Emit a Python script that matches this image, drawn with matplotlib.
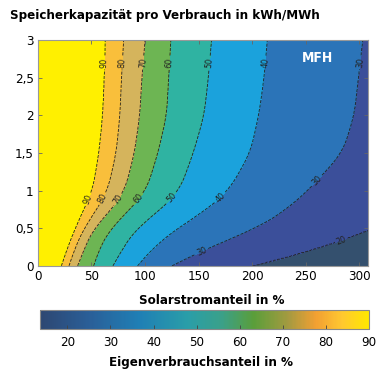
import numpy as np
import matplotlib
matplotlib.use("Agg")
import matplotlib.pyplot as plt
from matplotlib.colors import LinearSegmentedColormap, Normalize
from matplotlib.cm import ScalarMappable

# ------------------------------------------------------------
# Data: x position (Solarstromanteil, %) where
# each Eigenverbrauchsanteil contour crosses a given storage row
# ------------------------------------------------------------
storage_rows = [0, 0.25, 0.5, 0.75, 1.0, 1.5, 2.0, 2.5, 3.0]
levels = [90, 80, 70, 60, 50, 40, 30, 20]
cross_90 = [22, 28, 35, 43, 51, 57, 60.5, 62, 63]
cross_80 = [29, 35, 43, 55, 65, 73, 76.5, 78, 80]
cross_70 = [37, 44, 52, 69, 81, 90, 95, 97, 100]
cross_60 = [52, 58, 68, 86, 101, 112, 120, 122, 124]
cross_50 = [70, 80, 92, 115, 132, 145, 155, 159, 162]
cross_40 = [93, 108, 130, 158, 178, 198, 206, 211, 214]
cross_30 = [125, 160, 205, 232, 252, 284, 295, 299, 303]
cross_20 = [200, 268, 312, 360, 410, 480, 600, 700, 800]
edge_high = 100   # value left of the 90 line
edge_low = 10     # value right of the 20 line

# label spots on the contour lines
label_spots = [(63, 2.7), (79, 2.7), (97, 2.7), (121, 2.7), (158, 2.7), (211, 2.7), (303, 2.7),
               (48, 0.88), (62, 0.88), (78, 0.85), (97, 0.86), (127, 0.88), (171, 0.9),
               (262, 1.12), (153, 0.19), (283, 0.35)]

cbar_ticks = [20, 30, 40, 50, 60, 70, 80, 90]
cbar_min = 13.7
cbar_max = 90

# fill colours as printed (lowest band first)
fill_colors = ['#34506e', '#3b4f9a', '#2b74b8', '#1ba2dc', '#2fb3a2',
               '#6db553', '#d5b45c', '#f9bf3b', '#fff000']
bar_colors = [(0.0, '#2d4772'), (0.15, '#2a5f98'), (0.3, '#1f7fb5'), (0.45, '#2a9ea8'),
              (0.55, '#3aa08a'), (0.65, '#5a9e3a'), (0.76, '#a89a40'), (0.84, '#f2a032'),
              (0.92, '#ffc830'), (1.0, '#ffe800')]

# ------------------------------------------------------------
# build grid from the crossings, corners of the read polylines softened
# ------------------------------------------------------------
def soften(v, n=15):
    # moving average, ends padded by point reflection so the slope is kept
    head = 2 * v[0] - v[1:n + 1][::-1]
    tail = 2 * v[-1] - v[-n - 1:-1][::-1]
    w = np.concatenate([head, v, tail])
    k = np.ones(2 * n + 1) / (2 * n + 1)
    return np.convolve(w, k, mode='valid')

crossings = np.array([cross_90, cross_80, cross_70, cross_60, cross_50, cross_40, cross_30, cross_20])
xs = np.linspace(0, 310, 600)
ys = np.linspace(0, 3, 241)
lines = np.array([soften(np.interp(ys, storage_rows, c)) for c in crossings])
Z = np.zeros((len(ys), len(xs)))
for j in range(len(ys)):
    xp = np.concatenate([[-1], lines[:, j], [2000]])
    fp = np.concatenate([[edge_high], levels, [edge_low]])
    Z[j] = np.interp(xs, xp, fp)
X, Y = np.meshgrid(xs, ys)

plt.rcParams['font.family'] = ['DejaVu Sans']
plt.rcParams['font.stretch'] = 'condensed'

fig = plt.figure(figsize=(3.79, 3.76), dpi=100)
ax = fig.add_axes([0.100, 0.293, 0.871, 0.601])

fill_levels = [edge_low, 20, 30, 40, 50, 60, 70, 80, 90, edge_high]
ax.contourf(X, Y, Z, levels=fill_levels, colors=fill_colors)
cs = ax.contour(X, Y, Z, levels=sorted(levels), colors='#222222', linewidths=0.6, linestyles='--')
ax.clabel(cs, fmt='%d', fontsize=6.5, inline=True, inline_spacing=2, manual=label_spots)

ax.text(261, 2.76, 'MFH', color='white', fontsize=10, fontweight='bold', ha='center', va='center')

ax.set_xlim(0, 308)
ax.set_ylim(0, 3)
ax.set_xticks([0, 50, 100, 150, 200, 250, 300])
ax.set_yticks([0, 0.5, 1, 1.5, 2, 2.5, 3])
ax.set_yticklabels(['0', '0,5', '1', '1,5', '2', '2,5', '3'])
ax.tick_params(direction='in', length=3, width=0.6, color='#666666', labelsize=9.5,
               top=True, right=True, pad=3)
for s in ax.spines.values():
    s.set_color('#999999')
    s.set_linewidth(0.8)

fig.text(0.026, 0.96, 'Speicherkapazität pro Verbrauch in kWh/MWh', fontsize=9.5,
         fontweight='bold', ha='left', va='center')
fig.text(0.559, 0.202, 'Solarstromanteil in %', fontsize=9.5, fontweight='bold',
         ha='center', va='center')

# colour bar
cax = fig.add_axes([0.106, 0.125, 0.868, 0.0505])
cmap = LinearSegmentedColormap.from_list('print_parula', bar_colors)
sm = ScalarMappable(norm=Normalize(cbar_min, cbar_max), cmap=cmap)
cb = fig.colorbar(sm, cax=cax, orientation='horizontal', ticks=cbar_ticks)
cb.outline.set_edgecolor('#888888')
cb.outline.set_linewidth(0.8)
cax.tick_params(direction='in', length=3, width=0.6, color='#444444', labelsize=9.5, pad=5)
fig.text(0.53, 0.035, 'Eigenverbrauchsanteil in %', fontsize=9.5, fontweight='bold',
         ha='center', va='center')

fig.savefig('out.png', dpi=100)
